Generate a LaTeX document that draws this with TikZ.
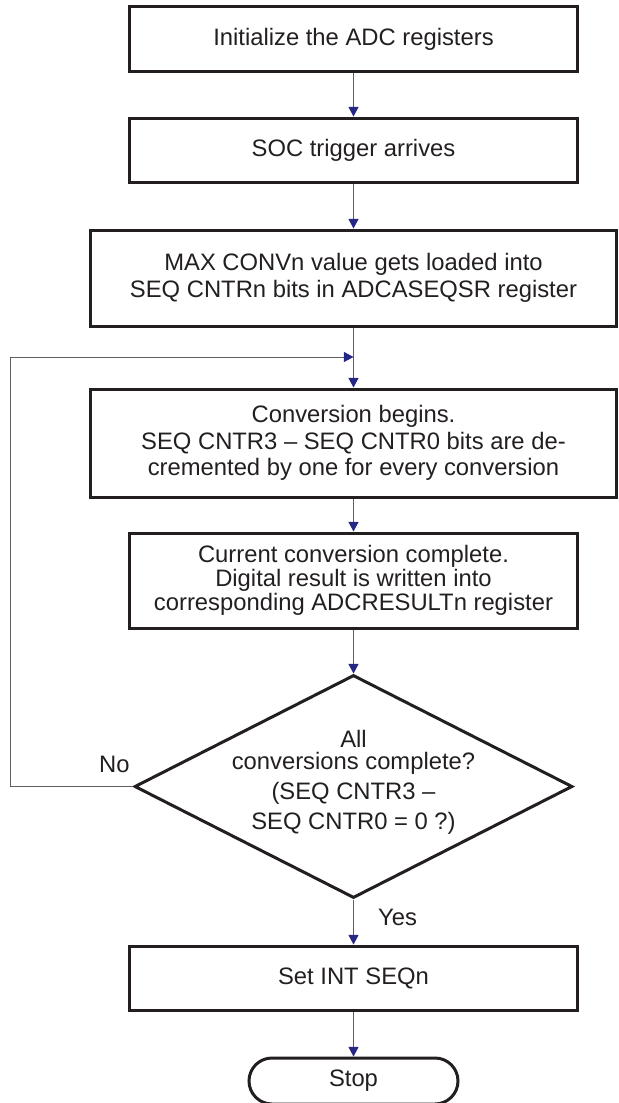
\documentclass[tikz,border=0pt]{standalone}
\usepackage{fontspec}
\setmainfont{Liberation Sans}
\usetikzlibrary{arrows.meta,shapes.geometric}
\definecolor{inkline}{RGB}{35,31,32}
\definecolor{tipblue}{RGB}{38,38,135}
\definecolor{wire}{RGB}{95,95,95}
\tikzset{>={Triangle[width=5pt,length=4.8pt,color=tipblue]},
  base/.style = {
    rectangle, draw=inkline, line width=1.5pt,
    text centered, align=center
  },
  process/.style = {
    base, minimum width=223.5pt, minimum height=32pt
  },
  wide/.style = {
    base, minimum width=263pt
  },
  decision/.style = {
    diamond, draw=inkline, line width=1.5pt,
    minimum width=219pt, minimum height=111.5pt, inner sep=0pt
  },
  terminal/.style = {
    base, rounded corners=11.5pt, minimum width=104.5pt, minimum height=23pt
  },
  flow/.style = {->, draw=wire, line width=0.5pt},
}

\begin{document}
\begin{tikzpicture}[node distance=55.5pt, every node/.style={text=inkline, font=\fontsize{11.9pt}{13.3pt}\selectfont}]
  \useasboundingbox (-176.75pt,19.5pt) rectangle (132.25pt,-532pt);
  \node (init) [process] {Initialize the ADC registers};
  \node (soc) [process, below of=init] {SOC trigger arrives};
  \node (load) [wide, minimum height=48pt, below of=soc, node distance=64pt] {MAX CONVn value gets loaded into\\SEQ CNTRn bits in ADCASEQSR register};
  \node (conv) [wide, minimum height=54pt, below of=load, node distance=82.5pt] {Conversion begins.\\SEQ CNTR3 – SEQ CNTR0 bits are de-\\cremented by one for every conversion};
  \node (write) [process, minimum height=47.5pt, below of=conv, node distance=68.75pt, font=\fontsize{11.9pt}{10.9pt}\selectfont] {Current conversion complete.\\Digital result is written into\\corresponding ADCRESULTn register};
  \node (done) [decision, below of=write, node distance=103pt] {};
  \node (done_i) [above of=done, node distance=2pt, align=center, font=\fontsize{11.9pt}{15pt}\selectfont] {All\\[-4pt]conversions complete?\\(SEQ CNTR3 –\\SEQ CNTR0 = 0 ?)};
  \node (intseq) [process, below of=done, node distance=95.75pt] {Set INT SEQn};
  \node (stop) [terminal, below of=intseq, node distance=51.5pt] {Stop};
  % loop back into the conversion box
  \node (join) [coordinate, below of=load, node distance=39.5pt] {};
  \node (back) [coordinate, left of=done, node distance=171.5pt] {};
  \node (no) [anchor=south east, inner sep=0pt, xshift=-1.5pt, yshift=6.5pt] at (done.west) {No};
  \node (yes) [xshift=22pt, yshift=-9pt] at (done.south) {Yes};
  \draw[flow] (init) -- (soc);
  \draw[flow] (soc) -- (load);
  \draw[flow] (load) -- (conv);
  \draw[flow] (conv) -- (write);
  \draw[flow] (write) -- (done);
  \draw[flow] (done) -- (intseq);
  \draw[flow] (intseq) -- (stop);
  \draw[flow] (done.west) -- (back) |- (join);
\end{tikzpicture}
\end{document}
